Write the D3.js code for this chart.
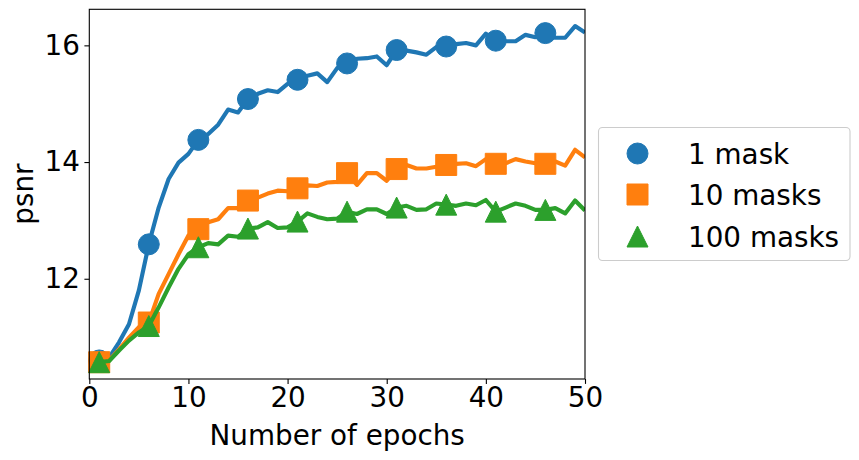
<!DOCTYPE html>
<html lang="en">
<head>
<meta charset="utf-8">
<script src="https://cdn.jsdelivr.net/npm/d3@7"></script>
<style>
  body { margin: 0; background: #fff; }
  text { font-family: "DejaVu Sans", sans-serif; fill: #000; }
</style>
</head>
<body>
<div id="chart"></div>
<script>
// data
const epochs = d3.range(1, 51)

const oneMask = [
  10.60, 10.65, 10.91, 11.22, 11.80, 12.59, 13.22, 13.71, 13.99, 14.14,
  14.38, 14.48, 14.64, 14.90, 14.85, 15.08, 15.17, 15.23, 15.20, 15.34,
  15.41, 15.48, 15.52, 15.37, 15.61, 15.69, 15.77, 15.78, 15.81, 15.66,
  15.92, 15.91, 15.88, 15.84, 15.97, 15.98, 16.02, 16.04, 16.00, 16.20,
  16.08, 16.07, 16.07, 16.18, 16.14, 16.21, 16.13, 16.13, 16.33, 16.22
]

const tenMasks = [
  10.57, 10.60, 10.79, 10.99, 11.17, 11.25, 11.74, 12.08, 12.42, 12.74,
  12.85, 12.97, 13.02, 13.21, 13.21, 13.34, 13.39, 13.46, 13.51, 13.50,
  13.55, 13.60, 13.59, 13.65, 13.66, 13.81, 13.61, 13.81, 13.81, 13.68,
  13.88, 13.95, 13.89, 13.89, 13.92, 13.95, 13.97, 13.98, 13.93, 14.05,
  13.97, 13.98, 14.05, 14.01, 13.98, 13.97, 14.01, 13.94, 14.21, 14.08
]

const hundredMasks = [
  10.57, 10.59, 10.77, 10.94, 11.08, 11.19, 11.51, 11.85, 12.17, 12.42,
  12.54, 12.61, 12.59, 12.74, 12.72, 12.86, 12.88, 12.97, 12.87, 12.88,
  12.98, 13.12, 13.06, 13.02, 13.03, 13.15, 13.11, 13.19, 13.19, 13.11,
  13.22, 13.25, 13.18, 13.19, 13.29, 13.27, 13.25, 13.29, 13.26, 13.35,
  13.15, 13.22, 13.29, 13.25, 13.18, 13.18, 13.21, 13.12, 13.34, 13.17
]

const seriesNames = ['1 mask', '10 masks', '100 masks']
const xTicks = [0, 10, 20, 30, 40, 50]
const yTicks = [12, 14, 16]

const colors = ['#1f77b4', '#ff7f0e', '#2ca02c']
const symbols = [d3.symbolCircle, d3.symbolSquare, d3.symbolTriangle]

const w = 859
const h = 460
const padL = 89.3, padR = 585, padT = 9.3, padB = 379
const fontSize = 27.8
const markSize = 22

let svg = d3.select('#chart')
  .append('svg')
  .attr('width', w)
  .attr('height', h)

let scaleX = d3.scaleLinear()
  .domain([0, 50])
  .range([padL, padR])

// matplotlib style 5% margin around the data
const allVals = oneMask.concat(tenMasks, hundredMasks)
const lo = d3.min(allVals), hi = d3.max(allVals)
const marginY = (hi - lo) * 0.05

let scaleY = d3.scaleLinear()
  .domain([lo - marginY, hi + marginY])
  .range([padB, padT])

svg.append('clipPath')
  .attr('id', 'plotClip')
  .append('rect')
  .attr('x', padL)
  .attr('y', padT)
  .attr('width', padR - padL)
  .attr('height', padB - padT)

// marker shape centred on 0,0 with given width
function markerPath(sym, size) {
  if (sym === d3.symbolCircle) {
    return d3.symbol().type(sym).size(Math.PI * size * size / 4)()
  }
  if (sym === d3.symbolSquare) {
    return d3.symbol().type(sym).size(size * size)()
  }
  const s = size / 2
  return 'M0,' + (-s) + 'L' + s + ',' + s + 'L' + (-s) + ',' + s + 'Z'
}

const allSeries = [oneMask, tenMasks, hundredMasks]

allSeries.forEach(function(vals, k) {
  const pts = epochs.map(function(e, i) { return [e, vals[i]] })

  const line = d3.line()
    .x(function(d) { return scaleX(d[0]) })
    .y(function(d) { return scaleY(d[1]) })

  svg.append('path')
    .datum(pts)
    .attr('clip-path', 'url(#plotClip)')
    .attr('d', line)
    .attr('fill', 'none')
    .attr('stroke', colors[k])
    .attr('stroke-width', 4.17)
    .attr('stroke-linejoin', 'round')

  svg.append('g')
    .selectAll('path')
    .data(pts.filter(function(d, i) { return i % 5 === 0 }))
    .enter()
    .append('path')
    .attr('d', markerPath(symbols[k], markSize - 1))
    .attr('transform', function(d) {
      return 'translate(' + scaleX(d[0]) + ',' + scaleY(d[1]) + ')'
    })
    .attr('fill', colors[k])
    .attr('stroke', colors[k])
    .attr('stroke-width', 1)
})

// axes
let xAxis = d3.axisBottom(scaleX)
  .tickValues(xTicks)
  .tickFormat(d3.format('d'))
  .tickSize(4.9)
  .tickPadding(3.5)

let yAxis = d3.axisLeft(scaleY)
  .tickValues(yTicks)
  .tickFormat(d3.format('d'))
  .tickSize(4.9)
  .tickPadding(4.5)

svg.append('g')
  .attr('transform', 'translate(0,' + padB + ')')
  .call(xAxis)

svg.append('g')
  .attr('transform', 'translate(' + padL + ',0)')
  .call(yAxis)

svg.selectAll('.domain').remove()
svg.selectAll('.tick line').attr('stroke', '#000').attr('stroke-width', 1.1)
svg.selectAll('.tick text')
  .style('font-family', '"DejaVu Sans", sans-serif')
  .style('font-size', fontSize + 'px')
  .attr('fill', '#000')

// frame
svg.append('rect')
  .attr('x', padL)
  .attr('y', padT)
  .attr('width', padR - padL)
  .attr('height', padB - padT)
  .attr('fill', 'none')
  .attr('stroke', '#000')
  .attr('stroke-width', 1.1)

// axis labels
svg.append('text')
  .attr('x', (padL + padR) / 2)
  .attr('y', 445)
  .attr('text-anchor', 'middle')
  .style('font-size', fontSize + 'px')
  .text('Number of epochs')

svg.append('text')
  .attr('transform', 'translate(33,' + ((padT + padB) / 2) + ') rotate(-90)')
  .attr('text-anchor', 'middle')
  .style('font-size', fontSize + 'px')
  .text('psnr')

// legend
let legend = svg.append('g')

legend.append('rect')
  .attr('x', 598.5)
  .attr('y', 127.5)
  .attr('width', 251.5)
  .attr('height', 133)
  .attr('rx', 4)
  .attr('fill', '#fff')
  .attr('fill-opacity', 0.8)
  .attr('stroke', '#cccccc')
  .attr('stroke-width', 1.1)

const legendRows = [153.5, 194.5, 236.5]

seriesNames.forEach(function(name, k) {
  legend.append('path')
    .attr('d', markerPath(symbols[k], markSize - 1))
    .attr('transform', 'translate(637.5,' + legendRows[k] + ')')
    .attr('fill', colors[k])
    .attr('stroke', colors[k])
    .attr('stroke-width', 1)

  legend.append('text')
    .attr('x', 688)
    .attr('y', legendRows[k] + 10)
    .style('font-size', fontSize + 'px')
    .text(name)
})
</script>
</body>
</html>
